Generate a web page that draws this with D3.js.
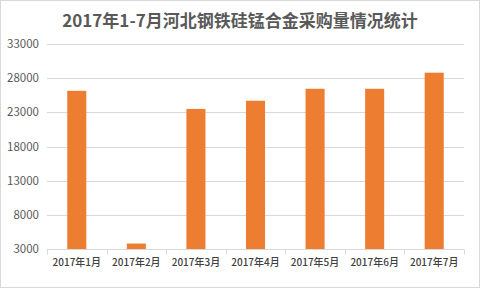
<!DOCTYPE html>
<html><head><meta charset="utf-8">
<script src="https://cdn.jsdelivr.net/npm/d3@7"></script>
<style>html,body{margin:0;padding:0;background:#fff;}svg{display:block;}</style>
</head><body>
<svg id="c" width="481" height="289"></svg>
<script>
const categories = ["2017年1月","2017年2月","2017年3月","2017年4月","2017年5月","2017年6月","2017年7月"];
const values = [26150, 3800, 23500, 24700, 26450, 26450, 28800];
const yTicks = [3000, 8000, 13000, 18000, 23000, 28000, 33000];
const title = "2017年1-7月河北钢铁硅锰合金采购量情况统计";

const svg = d3.select("#c");
const W = 481, H = 289;
const m = {left: 47, right: 17, top: 44, bottom: 40};
const font = "'Noto Sans CJK SC','Microsoft YaHei',sans-serif";

svg.append("rect").attr("x",0.5).attr("y",0.5).attr("width",W-2).attr("height",H-2)
  .attr("fill","#fff").attr("stroke","#d9d9d9").attr("stroke-width",1);

const x = d3.scaleBand().domain(categories).range([m.left, W - m.right]).paddingInner(0.68).paddingOuter(0.34);
const y = d3.scaleLinear().domain([3000, 33000]).range([H - m.bottom, m.top]);

// gridlines
svg.append("g").selectAll("line").data(yTicks.slice(1)).join("line")
  .attr("x1", m.left).attr("x2", W - m.right)
  .attr("y1", d => Math.round(y(d)) + 0.5).attr("y2", d => Math.round(y(d)) + 0.5)
  .attr("stroke", "#d9d9d9").attr("stroke-width", 1);

// y labels
svg.append("g").selectAll("text").data(yTicks).join("text")
  .attr("x", 39).attr("y", d => y(d)).attr("dy", "0.35em")
  .attr("text-anchor", "end").attr("font-family", font).attr("font-size", 11.5)
  .attr("fill", "#595959").text(d => d);

// bars
svg.append("g").selectAll("rect").data(values).join("rect")
  .attr("x", (d,i) => x(categories[i])).attr("width", x.bandwidth())
  .attr("y", d => y(d)).attr("height", d => y(3000) - y(d))
  .attr("fill", "#ed7d31");

// x axis
const xa = d3.axisBottom(x).tickSize(0).tickPadding(9);
const gx = svg.append("g").attr("transform", `translate(0,${Math.round(y(3000)) + 0.5})`).call(xa);
gx.select(".domain").attr("stroke", "#d9d9d9").attr("d", `M${m.left},0H${W - m.right}`);
gx.selectAll("text").attr("font-family", font).attr("font-size", 10).attr("fill", "#404040").attr("font-weight", 500);
const step = x.step();
const bounds = d3.range(categories.length + 1).map(i => m.left + i * (W - m.left - m.right) / categories.length);
gx.append("g").selectAll("line").data(bounds).join("line")
  .attr("x1", d => Math.round(d) + 0.5).attr("x2", d => Math.round(d) + 0.5)
  .attr("y1", 0).attr("y2", 5).attr("stroke", "#d9d9d9");

// title
svg.append("text").attr("x", 240).attr("y", 27).attr("text-anchor", "middle")
  .attr("font-family", font).attr("font-size", 17).attr("font-weight", "bold")
  .attr("fill", "#595959").text(title);
</script>
</body></html>
